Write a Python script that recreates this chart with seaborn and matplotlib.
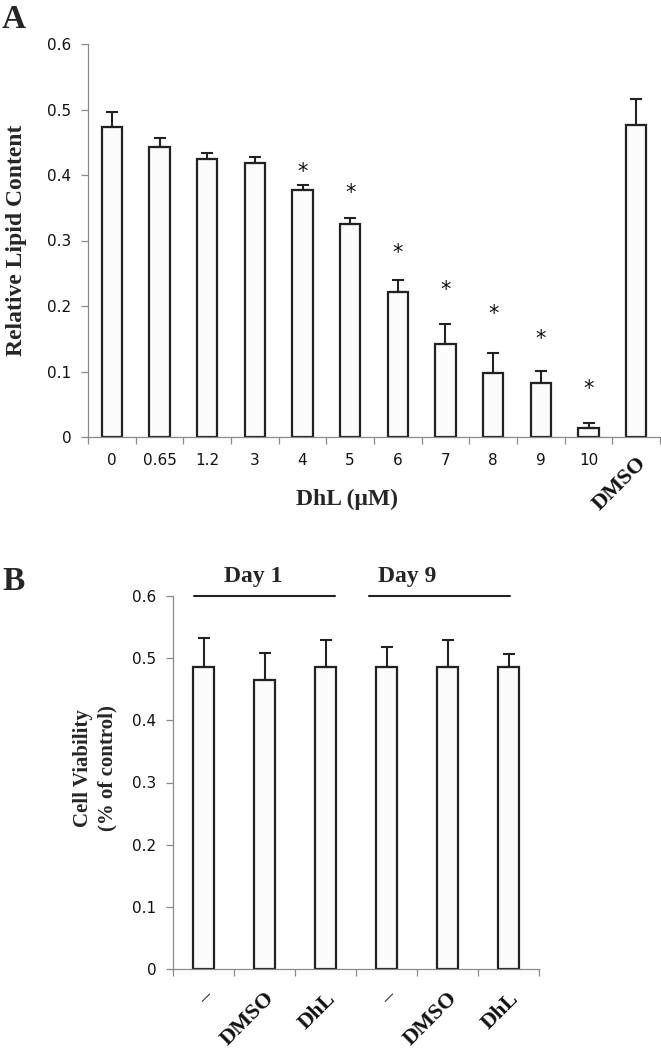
import numpy as np
import pandas as pd
import matplotlib
matplotlib.use("Agg")
import matplotlib.pyplot as plt
import seaborn as sns

# panel A - lipid content vs DhL dose
cats_a = ['0', '0.65', '1.2', '3', '4', '5', '6', '7', '8', '9', '10', 'DMSO']
vals_a = [0.474, 0.443, 0.424, 0.418, 0.377, 0.325, 0.222, 0.142, 0.098, 0.082, 0.014, 0.476]
err_a = [0.022, 0.013, 0.010, 0.010, 0.007, 0.009, 0.018, 0.030, 0.031, 0.019, 0.007, 0.040]
star_idx = [4, 5, 6, 7, 8, 9, 10]
star_h = [0.405, 0.372, 0.281, 0.224, 0.188, 0.150, 0.074]

# panel B - cell viability
keys_b = ['d1_none', 'd1_dmso', 'd1_dhl', 'd9_none', 'd9_dmso', 'd9_dhl']
labels_b = ['\u2013', 'DMSO', 'DhL', '\u2013', 'DMSO', 'DhL']
vals_b = [0.485, 0.465, 0.485, 0.485, 0.485, 0.485]
err_b = [0.047, 0.044, 0.044, 0.033, 0.044, 0.021]
day_labels = ['Day 1', 'Day 9']
day_lines = [(-0.16, 2.16), (2.71, 5.02)]
day_text_x = [0.81, 3.34]

yticks = [0, 0.1, 0.2, 0.3, 0.4, 0.5, 0.6]
ytick_labels = ['0', '0.1', '0.2', '0.3', '0.4', '0.5', '0.6']

sns.set_theme(style='white')
plt.rcParams['font.family'] = ['DejaVu Sans']
serif = ['Liberation Serif', 'DejaVu Serif']
axis_col = '#8a8a8a'
edge_col = '#222222'
fill_col = '#fbfbfb'

W, H = 661, 1048
fig = plt.figure(figsize=(W / 100, H / 100), dpi=100)
fig.patch.set_facecolor('white')


def px_axes(l, r, t, b):
    return fig.add_axes([l / W, 1 - b / H, (r - l) / W, (b - t) / H])


def style_axis(ax, n, pad_x):
    ax.set_ylim(0, 0.6)
    ax.set_xlim(-0.5, n - 0.5)
    ax.set_yticks(yticks)
    ax.set_yticklabels(ytick_labels)
    ax.set_xticks(np.arange(-0.5, n, 1), minor=True)
    for s in ['top', 'right']:
        ax.spines[s].set_visible(False)
    for s in ['left', 'bottom']:
        ax.spines[s].set_color(axis_col)
        ax.spines[s].set_linewidth(0.9)
    ax.tick_params(axis='y', which='major', length=5, width=0.9, color=axis_col,
                   direction='out', left=True, labelsize=11, pad=7, labelcolor='#111111')
    ax.tick_params(axis='x', which='major', length=0, pad=pad_x, labelsize=11,
                   labelcolor='#111111')
    ax.tick_params(axis='x', which='minor', length=5, width=0.9, color=axis_col,
                   direction='out', bottom=True)
    ax.set_facecolor('white')
    ax.grid(False)


# ---------- panel A ----------
df_a = pd.DataFrame({'dose': cats_a, 'lipid': vals_a})
ax1 = px_axes(88, 660, 44, 437)
sns.barplot(ax=ax1, data=df_a, x='dose', y='lipid', order=cats_a, color=fill_col,
            saturation=1, width=0.42, edgecolor=edge_col, linewidth=1.6, errorbar=None)
ax1.errorbar(np.arange(len(cats_a)), vals_a, yerr=[np.zeros(len(err_a)), err_a],
             fmt='none', ecolor=edge_col, elinewidth=1.5, capsize=4.5, capthick=1.5)
style_axis(ax1, len(cats_a), 11.5)
ax1.set_xticks(np.arange(len(cats_a)))
ax1.set_xticklabels(cats_a)
lab = ax1.get_xticklabels()[-1]
lab.set_rotation(45)
lab.set_rotation_mode('anchor')
lab.set_ha('right')
lab.set_va('top')
lab.set_fontfamily(serif)
lab.set_fontweight('bold')
lab.set_fontsize(16)
for i, h in zip(star_idx, star_h):
    ax1.text(i, h, '*', ha='center', va='center', fontsize=15, color='#111111')
ax1.set_xlabel('DhL (\u03bcM)', fontfamily=serif, fontweight='bold', fontsize=17)
ax1.xaxis.set_label_coords((347 - 88) / 572, -0.132)
ax1.set_ylabel('Relative Lipid Content', fontfamily=serif, fontweight='bold', fontsize=17)
ax1.yaxis.set_label_coords((27 - 88) / 572, 0.5)

# ---------- panel B ----------
df_b = pd.DataFrame({'group': keys_b, 'viability': vals_b})
ax2 = px_axes(173, 539, 596, 969)
sns.barplot(ax=ax2, data=df_b, x='group', y='viability', order=keys_b, color=fill_col,
            saturation=1, width=0.34, edgecolor=edge_col, linewidth=1.6, errorbar=None)
ax2.errorbar(np.arange(len(keys_b)), vals_b, yerr=[np.zeros(len(err_b)), err_b],
             fmt='none', ecolor=edge_col, elinewidth=1.5, capsize=4.5, capthick=1.5)
style_axis(ax2, len(keys_b), 14)
ax2.set_xticks(np.arange(len(keys_b)))
ax2.set_xticklabels(labels_b, rotation=45, ha='right', va='top', rotation_mode='anchor',
                    fontfamily=serif, fontweight='bold', fontsize=16)
ax2.set_xlabel('')
ax2.set_ylabel('Cell Viability\n(% of control)', fontfamily=serif, fontweight='bold',
               fontsize=15, linespacing=1.25)
ax2.yaxis.set_label_coords((117 - 173) / 366, 0.54)
for (x0, x1), tx, txt in zip(day_lines, day_text_x, day_labels):
    ax2.plot([x0, x1], [0.6, 0.6], color=edge_col, lw=1.5, clip_on=False)
    ax2.text(tx, 0.614, txt, ha='center', va='bottom', fontfamily=serif,
             fontweight='bold', fontsize=17, clip_on=False)

# panel letters
fig.text(2 / W, 1 - 28 / H, 'A', fontfamily=serif, fontweight='bold', fontsize=24,
         ha='left', va='baseline')
fig.text(2 / W, 1 - 590 / H, 'B', fontfamily=serif, fontweight='bold', fontsize=24,
         ha='left', va='baseline')

fig.savefig('out.png', dpi=100, facecolor='white')
